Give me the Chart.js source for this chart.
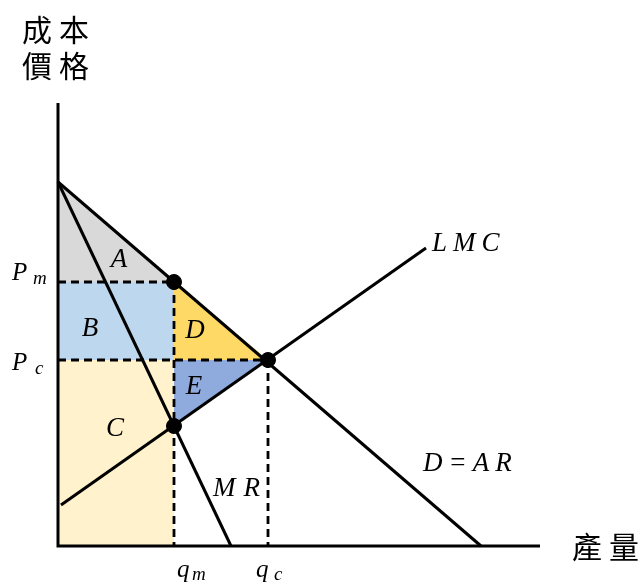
<!DOCTYPE html>
<html>
<head>
<meta charset="utf-8">
<script src="https://cdn.jsdelivr.net/npm/chart.js@4"></script>
<style>
  body { margin: 0; background: #fff; }
</style>
</head>
<body>
<canvas id="c" width="641" height="585"></canvas>
<script>
// curves (quantity, price)
const demandQ = [0, 423];
const demandP = [364, 0];
const mrQ = [0, 173];
const mrP = [364, 0];
const lmcQ = [3, 368];
const lmcP = [41, 298];

// key quantities / prices
const qm = 116, qc = 210;
const pm = 264, pc = 186, mcAtQm = 120;

// axis ranges
const xMax = 482, yMax = 443;

const pts = (xs, ys) => xs.map((x, i) => ({ x: x, y: ys[i] }));

const solid = (data) => ({
    data: data, showLine: true, borderColor: '#000', borderWidth: 3,
    pointRadius: 0, fill: false, clip: false
});
const dashed = (data) => ({
    data: data, showLine: true, borderColor: '#000', borderWidth: 2.8,
    borderDash: [8, 5], pointRadius: 0, fill: false, clip: false
});
const area = (data, color) => ({
    data: data, showLine: true, borderWidth: 0, borderColor: color,
    backgroundColor: color, pointRadius: 0, fill: 'shape', tension: 0
});

const datasets = [
    // dots
    {
        data: [{ x: qm, y: pm }, { x: qc, y: pc }, { x: qm, y: mcAtQm }],
        showLine: false, pointRadius: 7.5, pointBackgroundColor: '#000',
        pointBorderColor: '#000', clip: false
    },
    solid(pts(demandQ, demandP)),
    solid(pts(mrQ, mrP)),
    solid(pts(lmcQ, lmcP)),
    // axes
    solid([{ x: 0, y: yMax }, { x: 0, y: 0 }, { x: xMax, y: 0 }]),
    // guide lines
    dashed([{ x: 0, y: pm }, { x: qm, y: pm }]),
    dashed([{ x: 0, y: pc }, { x: qc, y: pc }]),
    dashed([{ x: qm, y: pm }, { x: qm, y: 0 }]),
    dashed([{ x: qc, y: pc }, { x: qc, y: 0 }]),
    // shaded areas
    area([{ x: 0, y: demandP[0] }, { x: qm, y: pm }, { x: 0, y: pm }], '#d9d9d9'),
    area([{ x: 0, y: pm }, { x: qm, y: pm }, { x: qm, y: pc }, { x: 0, y: pc }], '#bdd7ee'),
    area([{ x: 0, y: pc }, { x: qm, y: pc }, { x: qm, y: 0 }, { x: 0, y: 0 }], '#fff2cc'),
    area([{ x: qm, y: pm }, { x: qc, y: pc }, { x: qm, y: pc }], '#ffd966'),
    area([{ x: qm, y: pc }, { x: qc, y: pc }, { x: qm, y: mcAtQm }], '#8faadc')
];

const serif = '"Liberation Serif", "DejaVu Serif", serif';
const cjk = '"Noto Sans CJK TC", "Noto Sans CJK SC", sans-serif';

function txt(ctx, s, x, y, font, spacing, align) {
    ctx.font = font;
    ctx.letterSpacing = (spacing || 0) + 'px';
    ctx.textAlign = align || 'center';
    ctx.fillText(s, x, y);
}

const labels = {
    id: 'labels',
    afterDraw(chart) {
        const ctx = chart.ctx, sx = chart.scales.x, sy = chart.scales.y;
        ctx.save();
        ctx.fillStyle = '#000';
        ctx.textBaseline = 'alphabetic';

        // axis titles
        txt(ctx, '成本', 22, 41, '30px ' + cjk, 7, 'left');
        txt(ctx, '價格', 22, 77, '30px ' + cjk, 7, 'left');
        txt(ctx, '產量', 572, 558, '30px ' + cjk, 7, 'left');

        // price labels
        const it = 'italic 25px ' + serif, itSmall = 'italic 19px ' + serif;
        const ym = sy.getPixelForValue(pm), yc = sy.getPixelForValue(pc);
        txt(ctx, 'P', 12, ym - 2, it, 0, 'left');
        txt(ctx, 'm', 33, ym + 2, itSmall, 0, 'left');
        txt(ctx, 'P', 12, yc + 10, it, 0, 'left');
        txt(ctx, 'c', 35, yc + 14, itSmall, 0, 'left');

        // quantity labels
        const xm = sx.getPixelForValue(qm), xc = sx.getPixelForValue(qc);
        txt(ctx, 'q', xm + 3, 577, it, 0, 'left');
        txt(ctx, 'm', xm + 18, 580, itSmall, 0, 'left');
        txt(ctx, 'q', xc - 12, 577, it, 0, 'left');
        txt(ctx, 'c', xc + 6, 580, itSmall, 0, 'left');

        // curve labels
        const big = 'italic 27px ' + serif;
        txt(ctx, 'LMC', 432, 251, big, 6, 'left');
        txt(ctx, 'D=AR', 423, 471, big, 6, 'left');
        txt(ctx, 'MR', 213, 496, big, 8, 'left');

        // area labels
        txt(ctx, 'A', 119, 267, big);
        txt(ctx, 'B', 90, 336, big);
        txt(ctx, 'C', 115, 436, big);
        txt(ctx, 'D', 195, 338, big);
        txt(ctx, 'E', 194, 394, big);
        ctx.restore();
    }
};

new Chart(document.getElementById('c'), {
    type: 'scatter',
    data: { datasets: datasets },
    options: {
        responsive: false,
        devicePixelRatio: 1,
        animation: false,
        layout: { padding: { left: 58, right: 101, top: 103, bottom: 39 } },
        scales: {
            x: { type: 'linear', min: 0, max: xMax, display: false },
            y: { type: 'linear', min: 0, max: yMax, display: false }
        },
        plugins: { legend: { display: false }, tooltip: { enabled: false } },
        elements: { line: { tension: 0 } }
    },
    plugins: [labels]
});
</script>
</body>
</html>
